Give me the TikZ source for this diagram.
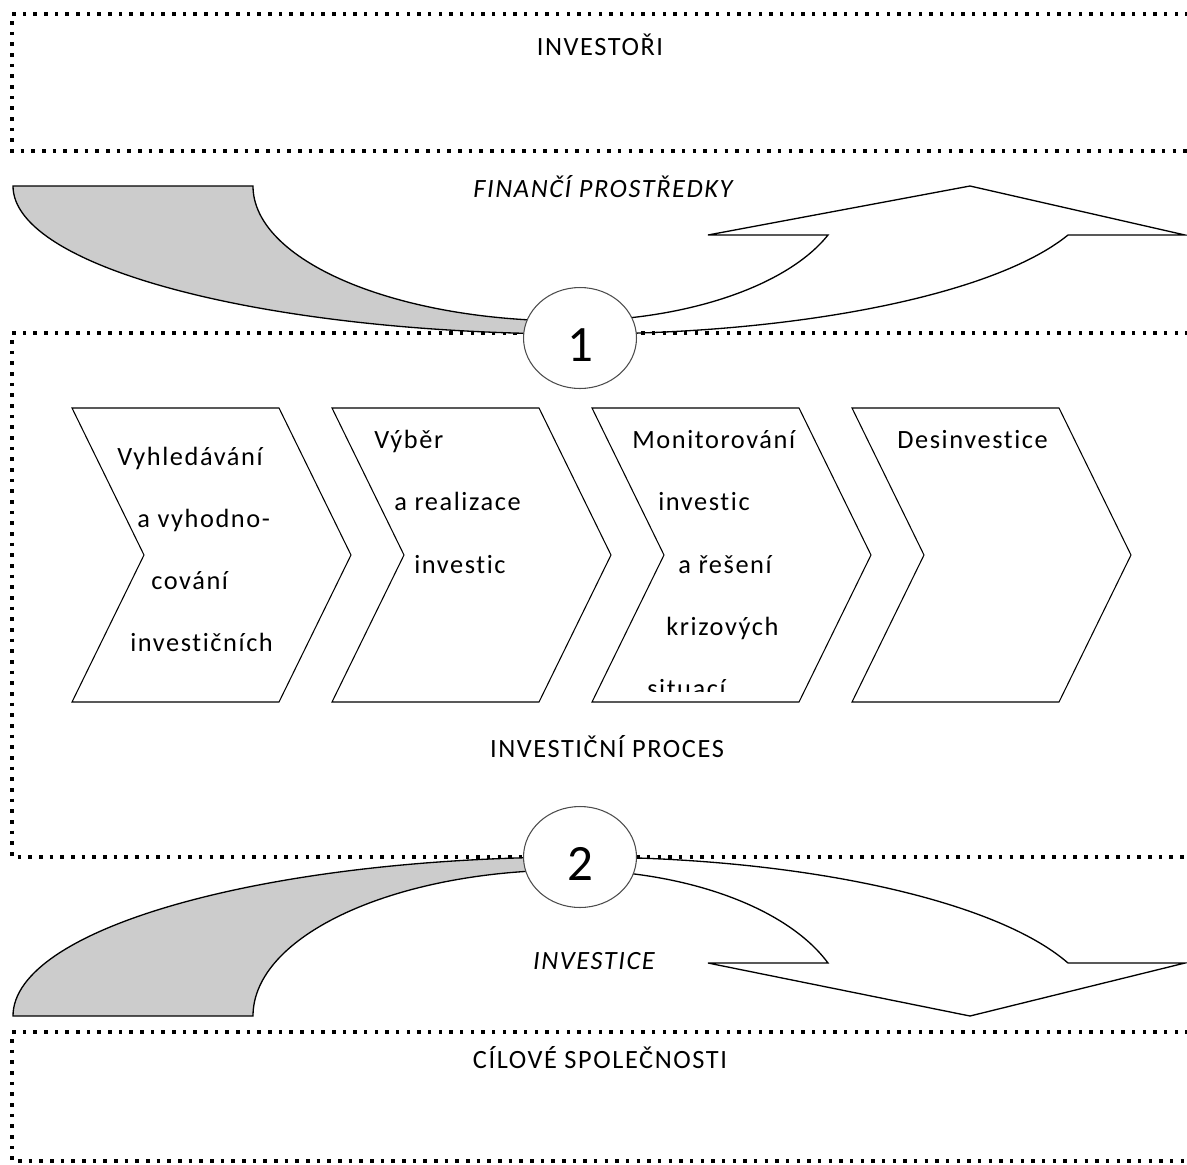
\documentclass[tikz,border=0pt]{standalone}
\usepackage{fontspec}
\setmainfont{Carlito}[LetterSpace=6, Ligatures={NoCommon}]
\usetikzlibrary{shapes.geometric}

\newcommand{\upband}{(13,186) -- (253,186) .. controls (253,260.6) and (395,321) .. (570,321)
  .. controls (684,321) and (786.6,286.8) .. (828,235) -- (708,235) -- (970,186) -- (1185,235) -- (1068,235)
  .. controls (995.3,294.3) and (799.6,334) .. (580,334) .. controls (266.8,334) and (13,267.7) .. cycle}
\newcommand{\downband}{(13,1016) -- (253,1016) .. controls (253,935.4) and (395,870) .. (570,870)
  .. controls (684,870) and (786.6,906.9) .. (828,963) -- (708,963) -- (970,1016) -- (1185,963) -- (1068,963)
  .. controls (995,899.5) and (799.3,857) .. (580,857) .. controls (266.8,857) and (13,928.2) .. cycle}

\begin{document}
\begin{tikzpicture}[x=0.02cm,y=-0.02cm,
  dotbox/.style={line width=2pt, dash pattern=on 2pt off 4.07pt},
  chev/.style={draw, line width=0.6pt},
  band/.style={line width=0.75pt},
  numcirc/.style={ellipse, draw=black!70, line width=0.6pt, fill=white, minimum width=2.26cm,
    minimum height=2.02cm, inner sep=0pt, font=\fontsize{29}{30}\selectfont, text height=26.6pt, text depth=0pt},
  lbl/.style={font=\fontsize{15}{18}\selectfont, anchor=base, inner sep=0pt},
  ilbl/.style={lbl, font=\fontsize{15}{18}\selectfont\itshape},
  steptext/.style={font=\fontsize{15}{18}\selectfont, anchor=base west, inner sep=0pt}]
\useasboundingbox (0,0) rectangle (1187,1164);

\draw[dotbox] (1210,14) -- (12,14) -- (12,151) -- (1210,151);
\draw[dotbox] (1210,333) -- (12,333) -- (12,857) -- (1210,857);
\draw[dotbox] (1210,1032) -- (12,1032) -- (12,1161) -- (1210,1161);

\begin{scope}
\clip (0,0) rectangle (580,1164);
\fill[gray!40] \upband;
\fill[gray!40] \downband;
\end{scope}
\draw[band] \upband;
\draw[band] \downband;

\foreach \x in {72,332,592,852}
  \draw[chev] (\x,408) -- ++(207,0) -- ++(72,147) -- ++(-72,147) -- ++(-207,0) -- ++(72,-147) -- cycle;

\node[numcirc] (c1) at (580,338) {1};
\node[numcirc] (c2) at (580,857) {2};

\node[lbl] (investori) at (600,55) {INVESTOŘI};
\node[ilbl] (prostredky) at (603,197) {FINANČÍ PROSTŘEDKY};
\node[lbl] (proces) at (607,757) {INVESTIČNÍ PROCES};
\node[ilbl] (investice) at (594,969) {INVESTICE};
\node[lbl] (spolecnosti) at (600,1068) {CÍLOVÉ SPOLEČNOSTI};

\node[steptext] (s1a) at (117,465) {Vyhledávání};
\node[steptext] (s1b) at (137,527) {a vyhodno-};
\node[steptext] (s1c) at (151,589) {cování};
\node[steptext] (s1d) at (130,651) {investičních};

\node[steptext] (s2a) at (374,448) {Výběr};
\node[steptext] (s2b) at (394,510) {a realizace};
\node[steptext] (s2c) at (414,573) {investic};

\node[steptext] (s3a) at (632,448) {Monitorování};
\node[steptext] (s3b) at (658,510) {investic};
\node[steptext] (s3c) at (678,573) {a řešení};
\node[steptext] (s3d) at (666,635) {krizových};
\begin{scope}
\clip (592,600) rectangle (870,691);
\node[steptext] (s3e) at (647,697) {situací};
\end{scope}

\node[steptext] (s4a) at (897,448) {Desinvestice};
\end{tikzpicture}
\end{document}
